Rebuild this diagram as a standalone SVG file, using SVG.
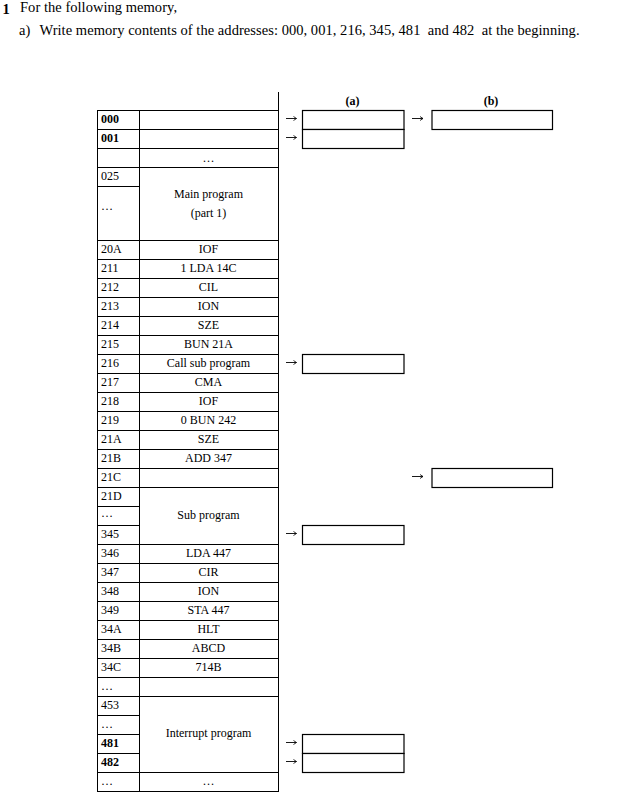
<svg xmlns="http://www.w3.org/2000/svg" width="642" height="801" viewBox="0 0 642 801">
<style>
.t{font-family:"Liberation Serif","Times New Roman",serif;font-size:12px;fill:#000}
.h{font-family:"Liberation Serif","Times New Roman",serif;font-size:14.5px;fill:#000}
.b{font-weight:bold}
.c{text-anchor:middle}
.cell{fill:#fff;stroke:#000;stroke-width:1}
.box{fill:#fff;stroke:#000;stroke-width:1.2}
.ar{fill:none;stroke:#000;stroke-width:0.9;marker-end:url(#ah)}
.ln{stroke:#000;stroke-width:1;fill:none}
</style>
<defs>
<marker id="ah" markerUnits="userSpaceOnUse" markerWidth="5" markerHeight="6" refX="4" refY="3" orient="auto">
<path d="M1,1 L4,3 L1,5" fill="none" stroke="#000" stroke-width="0.8"/>
</marker>
</defs>
<rect width="642" height="801" fill="#fff"/>

<g id="header">
<text class="h b" x="2.5" y="13.5">1</text>
<text class="h" x="20" y="11.5" textLength="157">For the following memory,</text>
<text class="h" x="19" y="35">a)</text>
<text class="h" x="39.5" y="35" xml:space="preserve" textLength="540">Write memory contents of the addresses: 000, 001, 216, 345, 481  and 482  at the beginning.</text>
<text class="t b c" x="352.5" y="104.5">(a)</text>
<text class="t b c" x="491" y="104.5">(b)</text>
</g>

<g id="memory-table">
<path class="ln" d="M278.5,92 V110.5"/>
<g id="m000"><rect class="cell" x="97.5" y="110.5" width="42" height="19"/><rect class="cell" x="139.5" y="110.5" width="139" height="19"/><text class="t b" x="101" y="122.5">000</text></g>
<g id="m001"><rect class="cell" x="97.5" y="129.5" width="42" height="19"/><rect class="cell" x="139.5" y="129.5" width="139" height="19"/><text class="t b" x="101" y="141.5">001</text></g>
<g id="mgap1"><rect class="cell" x="97.5" y="148.5" width="42" height="19"/><rect class="cell" x="139.5" y="148.5" width="139" height="19"/><text class="t c" x="208.5" y="161.5">…</text></g>
<g id="main-program"><rect class="cell" x="97.5" y="167.5" width="42" height="19"/><rect class="cell" x="97.5" y="186.5" width="42" height="54"/><rect class="cell" x="139.5" y="167.5" width="139" height="73"/>
<text class="t" x="101" y="179.5">025</text><text class="t" x="101" y="210">…</text>
<text class="t c" x="208.5" y="198">Main program</text><text class="t c" x="208.5" y="217">(part 1)</text></g>
<g id="m20A"><rect class="cell" x="97.5" y="240.5" width="42" height="19"/><rect class="cell" x="139.5" y="240.5" width="139" height="19"/><text class="t" x="101" y="252.5">20A</text><text class="t c" x="208.5" y="252.5">IOF</text></g>
<g id="m211"><rect class="cell" x="97.5" y="259.5" width="42" height="19"/><rect class="cell" x="139.5" y="259.5" width="139" height="19"/><text class="t" x="101" y="271.5">211</text><text class="t c" x="208.5" y="271.5">1 LDA 14C</text></g>
<g id="m212"><rect class="cell" x="97.5" y="278.5" width="42" height="19"/><rect class="cell" x="139.5" y="278.5" width="139" height="19"/><text class="t" x="101" y="290.5">212</text><text class="t c" x="208.5" y="290.5">CIL</text></g>
<g id="m213"><rect class="cell" x="97.5" y="297.5" width="42" height="19"/><rect class="cell" x="139.5" y="297.5" width="139" height="19"/><text class="t" x="101" y="309.5">213</text><text class="t c" x="208.5" y="309.5">ION</text></g>
<g id="m214"><rect class="cell" x="97.5" y="316.5" width="42" height="19"/><rect class="cell" x="139.5" y="316.5" width="139" height="19"/><text class="t" x="101" y="328.5">214</text><text class="t c" x="208.5" y="328.5">SZE</text></g>
<g id="m215"><rect class="cell" x="97.5" y="335.5" width="42" height="19"/><rect class="cell" x="139.5" y="335.5" width="139" height="19"/><text class="t" x="101" y="347.5">215</text><text class="t c" x="208.5" y="347.5">BUN 21A</text></g>
<g id="m216"><rect class="cell" x="97.5" y="354.5" width="42" height="19"/><rect class="cell" x="139.5" y="354.5" width="139" height="19"/><text class="t" x="101" y="366.5">216</text><text class="t c" x="208.5" y="366.5">Call sub program</text></g>
<g id="m217"><rect class="cell" x="97.5" y="373.5" width="42" height="19"/><rect class="cell" x="139.5" y="373.5" width="139" height="19"/><text class="t" x="101" y="385.5">217</text><text class="t c" x="208.5" y="385.5">CMA</text></g>
<g id="m218"><rect class="cell" x="97.5" y="392.5" width="42" height="19"/><rect class="cell" x="139.5" y="392.5" width="139" height="19"/><text class="t" x="101" y="404.5">218</text><text class="t c" x="208.5" y="404.5">IOF</text></g>
<g id="m219"><rect class="cell" x="97.5" y="411.5" width="42" height="19"/><rect class="cell" x="139.5" y="411.5" width="139" height="19"/><text class="t" x="101" y="423.5">219</text><text class="t c" x="208.5" y="423.5">0 BUN 242</text></g>
<g id="m21A"><rect class="cell" x="97.5" y="430.5" width="42" height="19"/><rect class="cell" x="139.5" y="430.5" width="139" height="19"/><text class="t" x="101" y="442.5">21A</text><text class="t c" x="208.5" y="442.5">SZE</text></g>
<g id="m21B"><rect class="cell" x="97.5" y="449.5" width="42" height="19"/><rect class="cell" x="139.5" y="449.5" width="139" height="19"/><text class="t" x="101" y="461.5">21B</text><text class="t c" x="208.5" y="461.5">ADD 347</text></g>
<g id="m21C"><rect class="cell" x="97.5" y="468.5" width="42" height="19"/><rect class="cell" x="139.5" y="468.5" width="139" height="19"/><text class="t" x="101" y="480.5">21C</text></g>
<g id="sub-program"><rect class="cell" x="97.5" y="487.5" width="42" height="19"/><rect class="cell" x="97.5" y="506.5" width="42" height="19"/><rect class="cell" x="97.5" y="525.5" width="42" height="19"/><rect class="cell" x="139.5" y="487.5" width="139" height="57"/>
<text class="t" x="101" y="499.5">21D</text><text class="t" x="101" y="517">…</text><text class="t" x="101" y="537.5">345</text>
<text class="t c" x="208.5" y="519">Sub program</text></g>
<g id="m346"><rect class="cell" x="97.5" y="544.5" width="42" height="19"/><rect class="cell" x="139.5" y="544.5" width="139" height="19"/><text class="t" x="101" y="556.5">346</text><text class="t c" x="208.5" y="556.5">LDA 447</text></g>
<g id="m347"><rect class="cell" x="97.5" y="563.5" width="42" height="19"/><rect class="cell" x="139.5" y="563.5" width="139" height="19"/><text class="t" x="101" y="575.5">347</text><text class="t c" x="208.5" y="575.5">CIR</text></g>
<g id="m348"><rect class="cell" x="97.5" y="582.5" width="42" height="19"/><rect class="cell" x="139.5" y="582.5" width="139" height="19"/><text class="t" x="101" y="594.5">348</text><text class="t c" x="208.5" y="594.5">ION</text></g>
<g id="m349"><rect class="cell" x="97.5" y="601.5" width="42" height="19"/><rect class="cell" x="139.5" y="601.5" width="139" height="19"/><text class="t" x="101" y="613.5">349</text><text class="t c" x="208.5" y="613.5">STA 447</text></g>
<g id="m34A"><rect class="cell" x="97.5" y="620.5" width="42" height="19"/><rect class="cell" x="139.5" y="620.5" width="139" height="19"/><text class="t" x="101" y="632.5">34A</text><text class="t c" x="208.5" y="632.5">HLT</text></g>
<g id="m34B"><rect class="cell" x="97.5" y="639.5" width="42" height="19"/><rect class="cell" x="139.5" y="639.5" width="139" height="19"/><text class="t" x="101" y="651.5">34B</text><text class="t c" x="208.5" y="651.5">ABCD</text></g>
<g id="m34C"><rect class="cell" x="97.5" y="658.5" width="42" height="19"/><rect class="cell" x="139.5" y="658.5" width="139" height="19"/><text class="t" x="101" y="670.5">34C</text><text class="t c" x="208.5" y="670.5">714B</text></g>
<g id="mgap2"><rect class="cell" x="97.5" y="677.5" width="42" height="19"/><rect class="cell" x="139.5" y="677.5" width="139" height="19"/><text class="t" x="101" y="689.5">…</text></g>
<g id="interrupt-program"><rect class="cell" x="97.5" y="696.5" width="42" height="19"/><rect class="cell" x="97.5" y="715.5" width="42" height="19"/><rect class="cell" x="97.5" y="734.5" width="42" height="19"/><rect class="cell" x="97.5" y="753.5" width="42" height="19"/><rect class="cell" x="139.5" y="696.5" width="139" height="76"/>
<text class="t" x="101" y="708.5">453</text><text class="t" x="101" y="727.5">…</text><text class="t b" x="101" y="746.5">481</text><text class="t b" x="101" y="765.5">482</text>
<text class="t c" x="208.5" y="737">Interrupt program</text></g>
<g id="mgap3"><rect class="cell" x="97.5" y="772.5" width="42" height="19"/><rect class="cell" x="139.5" y="772.5" width="139" height="19"/><text class="t" x="101" y="784.5">…</text><text class="t c" x="208.5" y="784.5">…</text></g>
</g>

<g id="answer-boxes">
<g id="a000"><rect class="box" x="302.5" y="110.5" width="101.5" height="19"/></g>
<g id="a001"><rect class="box" x="302.5" y="129.5" width="101.5" height="19"/></g>
<g id="b000"><rect class="box" x="432" y="110.5" width="120.5" height="19"/></g>
<g id="a216"><rect class="box" x="302.5" y="354.5" width="101.5" height="19"/></g>
<g id="b21C"><rect class="box" x="432" y="468.5" width="120.5" height="19"/></g>
<g id="a345"><rect class="box" x="302.5" y="525.5" width="101.5" height="19"/></g>
<g id="a481"><rect class="box" x="302.5" y="734.5" width="101.5" height="19"/></g>
<g id="a482"><rect class="box" x="302.5" y="753.5" width="101.5" height="19"/></g>
</g>

<g id="connectors">
<path class="ar" d="M286,118.5 H296.5"/>
<path class="ar" d="M286,137.5 H296.5"/>
<path class="ar" d="M412,118.5 H423"/>
<path class="ar" d="M286,362.5 H296.5"/>
<path class="ar" d="M412,476.5 H423"/>
<path class="ar" d="M286,533.5 H296.5"/>
<path class="ar" d="M286,742.5 H296.5"/>
<path class="ar" d="M286,761.5 H296.5"/>
</g>
</svg>
